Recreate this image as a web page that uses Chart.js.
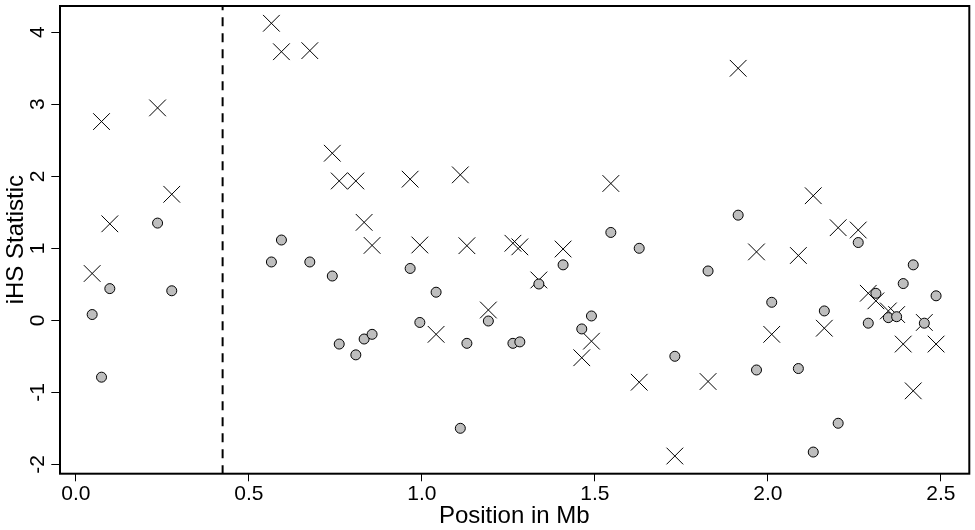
<!DOCTYPE html>
<html><head><meta charset="utf-8">
<script src="https://cdn.jsdelivr.net/npm/chart.js@4.4.1/dist/chart.umd.min.js"></script>
<style>html,body{margin:0;padding:0;background:#fff}canvas{display:block}</style>
</head><body>
<canvas id="c" width="975" height="530" style="width:975px;height:530px"></canvas>
<script>
// ---- data ----
const positions = [0.047,0.074,0.098,0.236,0.277,0.565,0.594,0.676,0.741,0.761,0.809,0.833,0.856,0.966,0.994,1.041,1.111,1.130,1.192,1.263,1.283,1.338,1.408,1.462,1.490,1.546,1.628,1.731,1.827,1.914,1.967,2.011,2.088,2.131,2.163,2.203,2.261,2.290,2.312,2.348,2.372,2.391,2.420,2.452,2.486];
const ihsCross = [0.65,2.76,1.34,2.95,1.75,4.125,3.73,3.745,2.32,1.935,1.935,1.36,1.04,1.96,1.046,-0.195,2.02,1.036,0.143,1.07,1.02,0.56,0.99,-0.52,-0.29,1.90,-0.86,-1.885,-0.85,3.50,0.95,-0.195,0.90,1.73,-0.11,1.286,1.254,0.375,0.27,0.13,0.08,-0.33,-0.98,-0.03,-0.33];
const ihsCircle = [0.08,-0.79,0.44,1.35,0.41,0.81,1.115,0.81,0.615,-0.33,-0.48,-0.26,-0.195,0.72,-0.03,0.39,-1.50,-0.32,-0.01,-0.32,-0.30,0.504,0.77,-0.12,0.06,1.22,1.0,-0.50,0.685,1.46,-0.69,0.25,-0.67,-1.83,0.13,-1.43,1.08,-0.04,0.375,0.037,0.05,0.51,0.77,-0.04,0.34];
const xTicks = [0, 0.5, 1.0, 1.5, 2.0, 2.5];
const yTicks = [-2, -1, 0, 1, 2, 3, 4];
const cutoffPosition = 0.424;
const xRange = [-0.048, 2.582];
const yRange = [-2.125, 4.365];
const xTitle = 'Position in Mb';
const yTitle = 'iHS Statistic';

const FONT = '"Liberation Sans", Arial, sans-serif';

const axisText = {
  id: 'axisText',
  afterDraw(chart) {
    const ctx = chart.ctx, a = chart.chartArea;
    const xs = chart.scales.x, ys = chart.scales.y;
    ctx.save();
    ctx.strokeStyle = '#000';
    ctx.lineWidth = 2;
    ctx.strokeRect(a.left + 0.7, a.top, a.right - a.left - 0.7, a.bottom - a.top + 0.4);
    ctx.fillStyle = '#000';
    ctx.font = '21px ' + FONT;
    ctx.textAlign = 'center';
    ctx.textBaseline = 'alphabetic';
    xTicks.forEach(v => ctx.fillText(v.toFixed(1), xs.getPixelForValue(v), 500));
    yTicks.forEach(v => {
      ctx.save();
      ctx.translate(43.5, ys.getPixelForValue(v));
      ctx.rotate(-Math.PI / 2);
      ctx.fillText(String(v), 0, 0);
      ctx.restore();
    });
    ctx.font = '24px ' + FONT;
    ctx.fillText(xTitle, (a.left + a.right) / 2, 522.7);
    ctx.save();
    ctx.translate(22.7, (a.top + a.bottom) / 2);
    ctx.rotate(-Math.PI / 2);
    ctx.fillText(yTitle, 0, 0);
    ctx.restore();
    ctx.restore();
  }
};

const gridOpts = { drawOnChartArea: false, drawTicks: true, tickLength: 8, color: '#000', lineWidth: 1 };

new Chart(document.getElementById('c'), {
  type: 'scatter',
  data: {
    datasets: [
      {
        label: 'circles',
        data: positions.map((x, i) => ({ x, y: ihsCircle[i] })),
        pointStyle: 'circle',
        pointRadius: 5,
        pointBackgroundColor: '#bebebe',
        pointBorderColor: '#000',
        pointBorderWidth: 1
      },
      {
        label: 'crosses',
        data: positions.map((x, i) => ({ x, y: ihsCross[i] })),
        pointStyle: 'crossRot',
        pointRadius: 11.8,
        pointBorderColor: '#000',
        pointBorderWidth: 1
      },
      {
        label: 'cutoff',
        data: [{ x: cutoffPosition, y: yRange[1] }, { x: cutoffPosition, y: yRange[0] }],
        showLine: true,
        pointRadius: 0,
        borderColor: '#000',
        borderWidth: 2,
        borderDash: [9, 7],
        borderDashOffset: 4.7
      }
    ]
  },
  options: {
    responsive: false,
    devicePixelRatio: 1,
    animation: false,
    layout: { autoPadding: false, padding: { left: 0, top: 6, right: 5.7, bottom: 0 } },
    plugins: { legend: { display: false }, tooltip: { enabled: false } },
    scales: {
      x: {
        type: 'linear', min: xRange[0], max: xRange[1],
        afterBuildTicks: s => { s.ticks = xTicks.map(v => ({ value: v })); },
        ticks: { display: false },
        grid: gridOpts,
        border: { display: false },
        afterFit: s => { s.height = 56.7; }
      },
      y: {
        type: 'linear', min: yRange[0], max: yRange[1],
        afterBuildTicks: s => { s.ticks = yTicks.map(v => ({ value: v })); },
        ticks: { display: false },
        grid: gridOpts,
        border: { display: false },
        afterFit: s => { s.width = 59.3; }
      }
    }
  },
  plugins: [axisText]
});
</script>
</body></html>
